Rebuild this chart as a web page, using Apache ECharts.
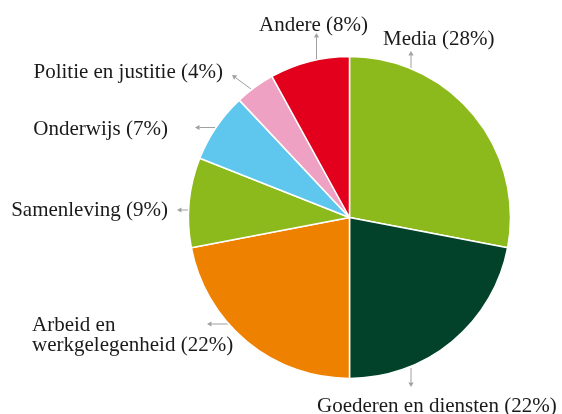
<!DOCTYPE html>
<html>
<head>
<meta charset="utf-8">
<script src="https://cdn.jsdelivr.net/npm/echarts@6/dist/echarts.min.js"></script>
<style>
html,body{margin:0;padding:0;background:#fff;}
#chart{width:562px;height:414px;}
</style>
</head>
<body>
<div id="chart"></div>
<script>
// Data
const categories = ['Media', 'Goederen en diensten', 'Arbeid en\nwerkgelegenheid', 'Samenleving', 'Onderwijs', 'Politie en justitie', 'Andere'];
const values = [28, 22, 22, 9, 7, 4, 8];
const colors = ['#8cb91b', '#03422a', '#ee8200', '#8cb91b', '#5fc6ee', '#eea1c2', '#e2001c'];

// Label layout (x, y, align) per slice
const labelPos = [
  [383, 39, 'left'],
  [317, 406, 'left'],
  [32, 335, 'left'],
  [168, 210, 'right'],
  [168, 129, 'right'],
  [223, 72, 'right'],
  [259, 25, 'left']
];
// Arrow annotations: [x1, y1, x2(tip), y2(tip)]
const arrows = [
  [411, 68, 411, 51],
  [411, 368, 411, 387],
  [228, 324, 207, 324],
  [188, 210, 177, 210],
  [215, 127.5, 195, 127.5],
  [251, 89, 232, 75],
  [316.5, 60, 316.5, 33]
];

function arrowGraphic(a) {
  const [x1, y1, x2, y2] = a;
  const dx = x2 - x1, dy = y2 - y1;
  const len = Math.sqrt(dx * dx + dy * dy);
  const ux = dx / len, uy = dy / len;
  const hl = 4.5, hw = 2.6;
  const bx = x2 - ux * hl, by = y2 - uy * hl;
  return {
    type: 'group',
    silent: true,
    children: [
      { type: 'line', shape: { x1: x1, y1: y1, x2: bx, y2: by }, style: { stroke: '#a0a0a0', lineWidth: 1 } },
      { type: 'polygon', shape: { points: [[x2, y2], [bx - uy * hw, by + ux * hw], [bx + uy * hw, by - ux * hw]] }, style: { fill: '#a0a0a0' } }
    ]
  };
}

const chart = echarts.init(document.getElementById('chart'), null, { renderer: 'canvas' });
chart.setOption({
  backgroundColor: '#ffffff',
  animation: false,
  series: [{
    type: 'pie',
    center: [349.5, 217.5],
    radius: 161,
    startAngle: 90,
    clockwise: true,
    silent: true,
    avoidLabelOverlap: false,
    data: categories.map((c, i) => ({ name: c, value: values[i], itemStyle: { color: colors[i] } })),
    itemStyle: { borderColor: '#ffffff', borderWidth: 1.5 },
    label: {
      show: true,
      position: 'outside',
      overflow: 'none',
      formatter: p => p.name + ' (' + p.value + '%)',
      fontFamily: 'Liberation Serif',
      fontSize: 21,
      lineHeight: 20,
      color: '#1a1a1a'
    },
    labelLine: { show: false },
    labelLayout: function (params) {
      const lp = labelPos[params.dataIndex];
      return { x: lp[0], y: lp[1], align: lp[2], verticalAlign: 'middle', width: 300 };
    }
  }],
  graphic: arrows.map(arrowGraphic)
});
</script>
</body>
</html>
